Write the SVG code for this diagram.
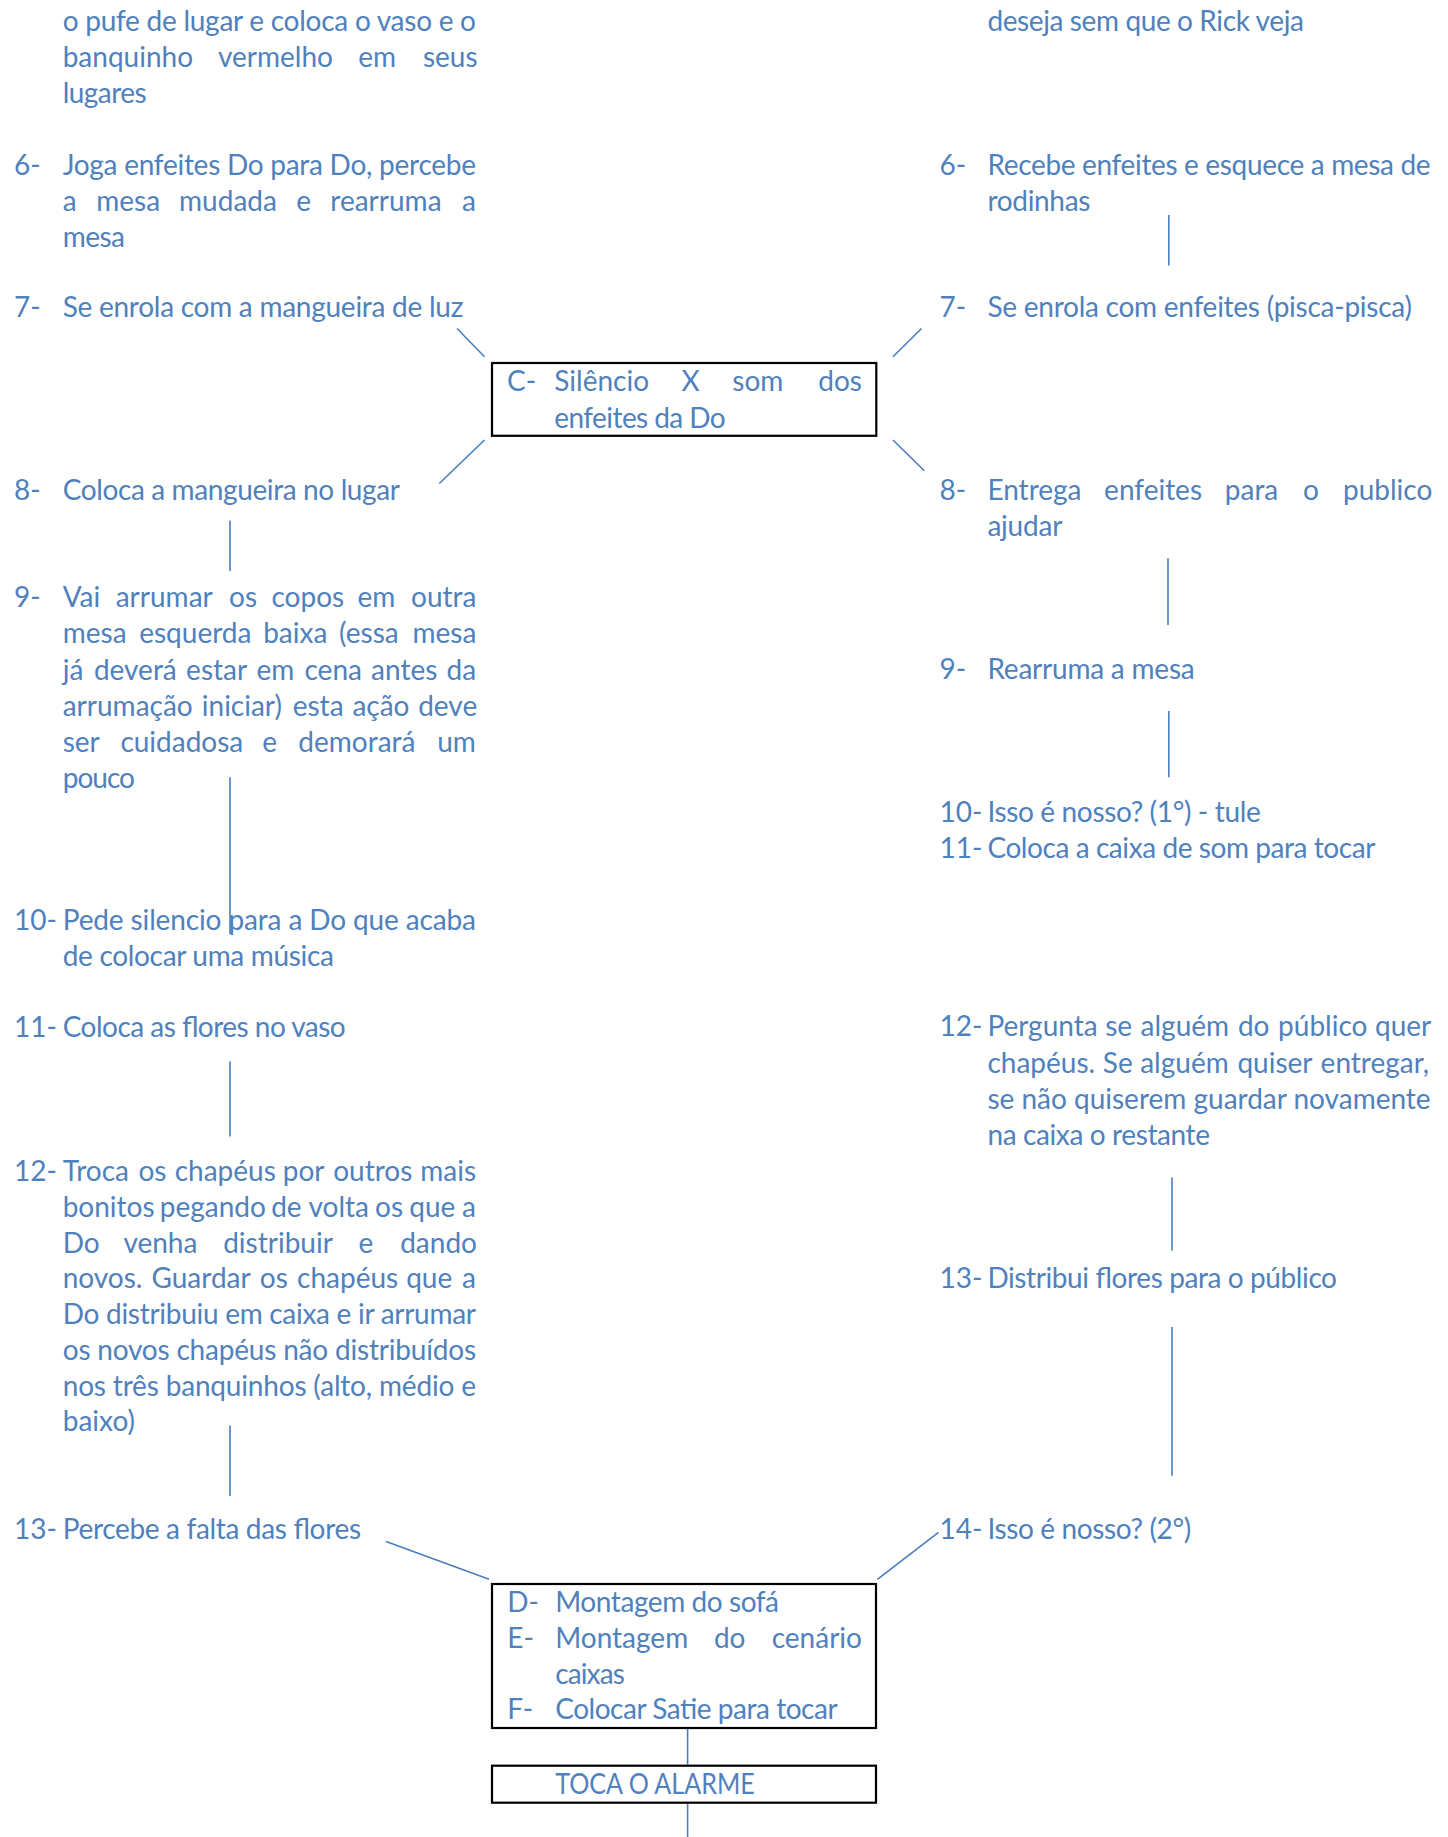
<svg xmlns="http://www.w3.org/2000/svg" width="1448" height="1837" viewBox="0 0 1448 1837">
<style>
text{font-family:Lato,"Open Sans","Noto Sans",sans-serif;font-size:28px;fill:#4F81BD}
.c line{stroke:#4A7EBB;stroke-width:1.6;fill:none}
.box{fill:none;stroke:#000;stroke-width:2.2}
</style>
<rect width="1448" height="1837" fill="#fff"/>
<g id="connectors" class="c">
<line x1="457" y1="328.5" x2="484.5" y2="356.7"/>
<line x1="921.5" y1="328.5" x2="893" y2="356.7"/>
<line x1="484.5" y1="440" x2="439.3" y2="483.5"/>
<line x1="893" y1="440" x2="924.3" y2="470.7"/>
<line x1="1168.8" y1="215" x2="1168.8" y2="265.5"/>
<line x1="230" y1="520.7" x2="230" y2="571"/>
<line x1="230" y1="777.3" x2="230" y2="934"/>
<line x1="1168" y1="558.3" x2="1168" y2="625"/>
<line x1="1168.8" y1="711" x2="1168.8" y2="777.3"/>
<line x1="230" y1="1061.4" x2="230" y2="1136.4"/>
<line x1="230" y1="1425.4" x2="230" y2="1496"/>
<line x1="1172" y1="1177.5" x2="1172" y2="1250.4"/>
<line x1="1172" y1="1327" x2="1172" y2="1475.7"/>
<line x1="386" y1="1541.5" x2="489" y2="1579.3"/>
<line x1="938.5" y1="1532.3" x2="877.4" y2="1579.3"/>
<line x1="687.6" y1="1728.7" x2="687.6" y2="1764.5"/>
<line x1="687.6" y1="1804" x2="687.6" y2="1837"/>
</g>
<g id="left-5">
<text x="62.7" y="31.2" textLength="413.3" lengthAdjust="spacing">o pufe de lugar e coloca o vaso e o</text>
<text y="67.3"><tspan x="62.7">banquinho</tspan><tspan x="218">vermelho</tspan><tspan x="358.3">em</tspan><tspan x="422.9">seus</tspan></text>
<text x="62.7" y="103" textLength="84" lengthAdjust="spacing">lugares</text>
</g>
<g id="left-6">
<text x="14" y="175">6-</text>
<text x="62.7" y="175" textLength="413.3" lengthAdjust="spacing">Joga enfeites Do para Do, percebe</text>
<text y="211.2"><tspan x="62.7">a</tspan><tspan x="96.2">mesa</tspan><tspan x="179.1">mudada</tspan><tspan x="296.3">e</tspan><tspan x="330.3">rearruma</tspan><tspan x="461.9">a</tspan></text>
<text x="62.7" y="247.2" textLength="62.3" lengthAdjust="spacing">mesa</text>
</g>
<g id="left-7">
<text x="14" y="317.2">7-</text>
<text x="62.7" y="317.2" textLength="400.6" lengthAdjust="spacing">Se enrola com a mangueira de luz</text>
</g>
<g id="left-8">
<text x="14" y="499.7">8-</text>
<text x="62.7" y="499.7" textLength="337.3" lengthAdjust="spacing">Coloca a mangueira no lugar</text>
</g>
<g id="left-9">
<text x="14" y="607.2">9-</text>
<text y="607.2"><tspan x="62.7">Vai</tspan><tspan x="115.7">arrumar</tspan><tspan x="229">os</tspan><tspan x="271.5">copos</tspan><tspan x="357.4">em</tspan><tspan x="411">outra</tspan></text>
<text y="643.4"><tspan x="62.7">mesa</tspan><tspan x="139.2">esquerda</tspan><tspan x="263.2">baixa</tspan><tspan x="339.1">(essa</tspan><tspan x="412.5">mesa</tspan></text>
<text y="679.6"><tspan x="62.7">já</tspan><tspan x="93.9">deverá</tspan><tspan x="186.1">estar</tspan><tspan x="256.4">em</tspan><tspan x="304.5">cena</tspan><tspan x="371.1">antes</tspan><tspan x="446.5">da</tspan></text>
<text y="715.9"><tspan x="62.7">arrumação</tspan><tspan x="201.8">iniciar)</tspan><tspan x="292.7">esta</tspan><tspan x="352.4">ação</tspan><tspan x="418.2">deve</tspan></text>
<text y="752.1"><tspan x="62.7">ser</tspan><tspan x="120.4">cuidadosa</tspan><tspan x="262.3">e</tspan><tspan x="298.3">demorará</tspan><tspan x="437.2">um</tspan></text>
<text x="62.7" y="788.2" textLength="72.3" lengthAdjust="spacing">pouco</text>
</g>
<g id="left-10">
<text x="14" y="929.8">10-</text>
<text x="62.7" y="929.8" textLength="413.3" lengthAdjust="spacing">Pede silencio para a Do que acaba</text>
<text x="62.7" y="965.8" textLength="271.3" lengthAdjust="spacing">de colocar uma música</text>
</g>
<g id="left-11">
<text x="14" y="1037">11-</text>
<text x="62.7" y="1037" textLength="283" lengthAdjust="spacing">Coloca as flores no vaso</text>
</g>
<g id="left-12">
<text x="14" y="1181">12-</text>
<text y="1181"><tspan x="62.7">Troca</tspan><tspan x="138.4">os</tspan><tspan x="174.7">chapéus</tspan><tspan x="282.7">por</tspan><tspan x="333.2">outros</tspan><tspan x="420.3">mais</tspan></text>
<text y="1216.8"><tspan x="62.7">bonitos</tspan><tspan x="159.8">pegando</tspan><tspan x="271.2">de</tspan><tspan x="308.5">volta</tspan><tspan x="375.1">os</tspan><tspan x="409.3">que</tspan><tspan x="462">a</tspan></text>
<text y="1252.6"><tspan x="62.7">Do</tspan><tspan x="123.4">venha</tspan><tspan x="223.2">distribuir</tspan><tspan x="358.5">e</tspan><tspan x="400.2">dando</tspan></text>
<text y="1288.4"><tspan x="62.7">novos.</tspan><tspan x="151.5">Guardar</tspan><tspan x="259.8">os</tspan><tspan x="297.1">chapéus</tspan><tspan x="406.2">que</tspan><tspan x="461.9">a</tspan></text>
<text x="62.7" y="1324.1" textLength="413.3" lengthAdjust="spacing">Do distribuiu em caixa e ir arrumar</text>
<text x="62.7" y="1359.8" textLength="413.3" lengthAdjust="spacing">os novos chapéus não distribuídos</text>
<text x="62.7" y="1395.5" textLength="413.3" lengthAdjust="spacing">nos três banquinhos (alto, médio e</text>
<text x="62.7" y="1431.2" textLength="72.3" lengthAdjust="spacing">baixo)</text>
</g>
<g id="left-13">
<text x="14" y="1538.8">13-</text>
<text x="62.7" y="1538.8" textLength="298.3" lengthAdjust="spacing">Percebe a falta das flores</text>
</g>
<g id="right-5">
<text x="987.4" y="31.2" textLength="316.5" lengthAdjust="spacing">deseja sem que o Rick veja</text>
</g>
<g id="right-6">
<text x="939.5" y="175">6-</text>
<text x="987.4" y="175" textLength="443.2" lengthAdjust="spacing">Recebe enfeites e esquece a mesa de</text>
<text x="987.4" y="211.2" textLength="103" lengthAdjust="spacing">rodinhas</text>
</g>
<g id="right-7">
<text x="939.5" y="317.2">7-</text>
<text x="987.4" y="317.2" textLength="424.6" lengthAdjust="spacing">Se enrola com enfeites (pisca-pisca)</text>
</g>
<g id="right-8">
<text x="939.5" y="499.7">8-</text>
<text y="499.7"><tspan x="987.4">Entrega</tspan><tspan x="1104.1">enfeites</tspan><tspan x="1224.8">para</tspan><tspan x="1303.1">o</tspan><tspan x="1343">publico</tspan></text>
<text x="987.4" y="536" textLength="75" lengthAdjust="spacing">ajudar</text>
</g>
<g id="right-9">
<text x="939.5" y="679">9-</text>
<text x="987.4" y="679" textLength="207.3" lengthAdjust="spacing">Rearruma a mesa</text>
</g>
<g id="right-10">
<text x="939.5" y="822">10-</text>
<text x="987.4" y="822" textLength="273.3" lengthAdjust="spacing">Isso é nosso? (1°) - tule</text>
</g>
<g id="right-11">
<text x="939.5" y="858">11-</text>
<text x="987.4" y="858" textLength="388" lengthAdjust="spacing">Coloca a caixa de som para tocar</text>
</g>
<g id="right-12">
<text x="939.5" y="1036.3">12-</text>
<text y="1036.3"><tspan x="987.4">Pergunta</tspan><tspan x="1105.2">se</tspan><tspan x="1140.6">alguém</tspan><tspan x="1237.9">do</tspan><tspan x="1278.1">público</tspan><tspan x="1375">quer</tspan></text>
<text y="1072.6"><tspan x="987.4">chapéus.</tspan><tspan x="1102.8">Se</tspan><tspan x="1140.2">alguém</tspan><tspan x="1237.4">quiser</tspan><tspan x="1320.6">entregar,</tspan></text>
<text x="987.4" y="1108.9" textLength="443.2" lengthAdjust="spacing">se não quiserem guardar novamente</text>
<text x="987.4" y="1145.3" textLength="222.6" lengthAdjust="spacing">na caixa o restante</text>
</g>
<g id="right-13">
<text x="939.5" y="1288.2">13-</text>
<text x="987.4" y="1288.2" textLength="349.6" lengthAdjust="spacing">Distribui flores para o público</text>
</g>
<g id="right-14">
<text x="939.5" y="1538.8">14-</text>
<text x="987.4" y="1538.8" textLength="203.8" lengthAdjust="spacing">Isso é nosso? (2°)</text>
</g>
<g id="box-C">
<rect class="box" x="492" y="363" width="384.3" height="72.8"/>
<text x="507" y="391">C-</text>
<text y="391"><tspan x="554.3">Silêncio</tspan><tspan x="681.5">X</tspan><tspan x="732.3">som</tspan><tspan x="818.3">dos</tspan></text>
<text x="554.3" y="427.5" textLength="171.4" lengthAdjust="spacing">enfeites da Do</text>
</g>
<g id="box-DEF">
<rect class="box" x="492" y="1584" width="384" height="144"/>
<text x="507.3" y="1611.5">D-</text>
<text x="555.2" y="1611.5" textLength="223.8" lengthAdjust="spacing">Montagem do sofá</text>
<text x="507.3" y="1647.8">E-</text>
<text y="1647.8"><tspan x="555.2">Montagem</tspan><tspan x="713.9">do</tspan><tspan x="771.7">cenário</tspan></text>
<text x="555.2" y="1684" textLength="69.6" lengthAdjust="spacing">caixas</text>
<text x="507.3" y="1719.3">F-</text>
<text x="555.2" y="1719.3" textLength="282.4" lengthAdjust="spacing">Colocar Satie para tocar</text>
</g>
<g id="box-alarme">
<rect class="box" x="492" y="1765.7" width="384" height="37"/>
<text x="555.2" y="1794" textLength="199.5" lengthAdjust="spacingAndGlyphs">TOCA O ALARME</text>
</g>
</svg>
